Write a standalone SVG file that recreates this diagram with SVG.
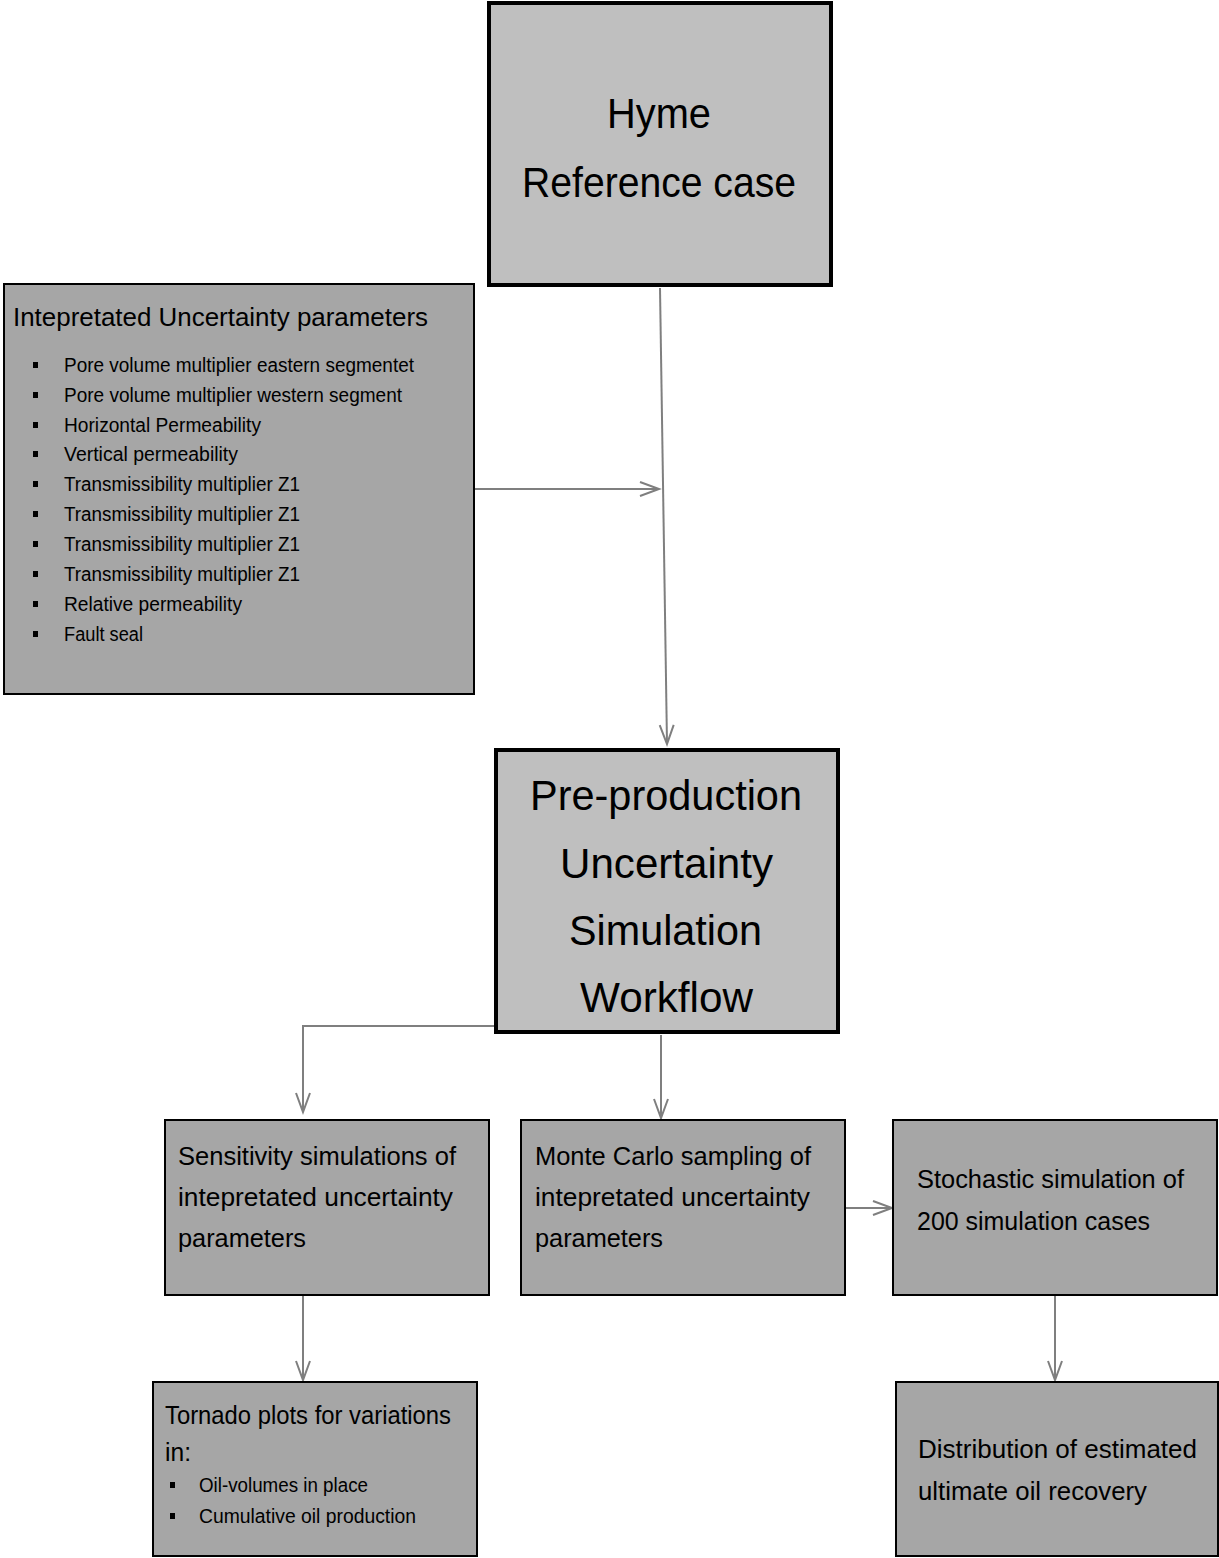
<svg xmlns="http://www.w3.org/2000/svg" width="1219" height="1558" viewBox="0 0 1219 1558">
<style>
.light{fill:#bfbfbf;stroke:#000;stroke-width:4}
.dark{fill:#a6a6a6;stroke:#000;stroke-width:2}
text{font-family:"Liberation Sans",Arial,sans-serif;fill:#000}
.big{font-size:43px}
.mid{font-size:26px}
.sm{font-size:20px}
.conn{fill:none;stroke:#7f7f7f;stroke-width:2}
.bul{fill:#000}
</style>
<defs>
<marker id="arr" markerUnits="userSpaceOnUse" markerWidth="26" markerHeight="22" refX="21" refY="10" orient="auto" viewBox="0 0 26 20">
<path d="M2,3 L21,10 L2,17" fill="none" stroke="#7f7f7f" stroke-width="2"/>
</marker>
</defs>
<g id="connectors">
<path class="conn" d="M660,288 L667,744" marker-end="url(#arr)"/>
<path class="conn" d="M475,489 L659,489" marker-end="url(#arr)"/>
<path class="conn" d="M495,1026 L303,1026 L303,1112" marker-end="url(#arr)"/>
<path class="conn" d="M661,1035 L661,1118" marker-end="url(#arr)"/>
<path class="conn" d="M845,1208 L892,1208" marker-end="url(#arr)"/>
<path class="conn" d="M303,1296 L303,1380" marker-end="url(#arr)"/>
<path class="conn" d="M1055,1296 L1055,1380" marker-end="url(#arr)"/>
</g>
<g id="hyme">
<rect class="light" x="489" y="3" width="342" height="282"/>
<text class="big" x="607" y="128" textLength="104" lengthAdjust="spacingAndGlyphs">Hyme</text>
<text class="big" x="522" y="197" textLength="274" lengthAdjust="spacingAndGlyphs">Reference case</text>
</g>
<g id="params">
<rect class="dark" x="4" y="284" width="470" height="410"/>
<text class="mid" x="13" y="326" textLength="415" lengthAdjust="spacingAndGlyphs">Intepretated Uncertainty parameters</text>
<rect class="bul" x="33" y="362" width="5" height="6"/>
<rect class="bul" x="33" y="392" width="5" height="6"/>
<rect class="bul" x="33" y="422" width="5" height="6"/>
<rect class="bul" x="33" y="451" width="5" height="6"/>
<rect class="bul" x="33" y="481" width="5" height="6"/>
<rect class="bul" x="33" y="511" width="5" height="6"/>
<rect class="bul" x="33" y="541" width="5" height="6"/>
<rect class="bul" x="33" y="571" width="5" height="6"/>
<rect class="bul" x="33" y="601" width="5" height="6"/>
<rect class="bul" x="33" y="631" width="5" height="6"/>
<text class="sm" x="64" y="372" textLength="350" lengthAdjust="spacingAndGlyphs">Pore volume multiplier eastern segmentet</text>
<text class="sm" x="64" y="402" textLength="338" lengthAdjust="spacingAndGlyphs">Pore volume multiplier western segment</text>
<text class="sm" x="64" y="432" textLength="197" lengthAdjust="spacingAndGlyphs">Horizontal Permeability</text>
<text class="sm" x="64" y="461" textLength="174" lengthAdjust="spacingAndGlyphs">Vertical permeability</text>
<text class="sm" x="64" y="491" textLength="236" lengthAdjust="spacingAndGlyphs">Transmissibility multiplier Z1</text>
<text class="sm" x="64" y="521" textLength="236" lengthAdjust="spacingAndGlyphs">Transmissibility multiplier Z1</text>
<text class="sm" x="64" y="551" textLength="236" lengthAdjust="spacingAndGlyphs">Transmissibility multiplier Z1</text>
<text class="sm" x="64" y="581" textLength="236" lengthAdjust="spacingAndGlyphs">Transmissibility multiplier Z1</text>
<text class="sm" x="64" y="611" textLength="178" lengthAdjust="spacingAndGlyphs">Relative permeability</text>
<text class="sm" x="64" y="641" textLength="79" lengthAdjust="spacingAndGlyphs">Fault seal</text>
</g>
<g id="preprod">
<rect class="light" x="496" y="750" width="342" height="282"/>
<text class="big" x="530" y="810" textLength="272" lengthAdjust="spacingAndGlyphs">Pre-production</text>
<text class="big" x="560" y="878" textLength="213" lengthAdjust="spacingAndGlyphs">Uncertainty</text>
<text class="big" x="569" y="945" textLength="193" lengthAdjust="spacingAndGlyphs">Simulation</text>
<text class="big" x="580" y="1012" textLength="173" lengthAdjust="spacingAndGlyphs">Workflow</text>
</g>
<g id="sensitivity">
<rect class="dark" x="165" y="1120" width="324" height="175"/>
<text class="mid" x="178" y="1165" textLength="278" lengthAdjust="spacingAndGlyphs">Sensitivity simulations of</text>
<text class="mid" x="178" y="1206" textLength="275" lengthAdjust="spacingAndGlyphs">intepretated uncertainty</text>
<text class="mid" x="178" y="1247" textLength="128" lengthAdjust="spacingAndGlyphs">parameters</text>
</g>
<g id="montecarlo">
<rect class="dark" x="521" y="1120" width="324" height="175"/>
<text class="mid" x="535" y="1165" textLength="276" lengthAdjust="spacingAndGlyphs">Monte Carlo sampling of</text>
<text class="mid" x="535" y="1206" textLength="275" lengthAdjust="spacingAndGlyphs">intepretated uncertainty</text>
<text class="mid" x="535" y="1247" textLength="128" lengthAdjust="spacingAndGlyphs">parameters</text>
</g>
<g id="stochastic">
<rect class="dark" x="893" y="1120" width="324" height="175"/>
<text class="mid" x="917" y="1188" textLength="267" lengthAdjust="spacingAndGlyphs">Stochastic simulation of</text>
<text class="mid" x="917" y="1230" textLength="233" lengthAdjust="spacingAndGlyphs">200 simulation cases</text>
</g>
<g id="tornado">
<rect class="dark" x="153" y="1382" width="324" height="174"/>
<text class="mid" x="165" y="1424" textLength="286" lengthAdjust="spacingAndGlyphs">Tornado plots for variations</text>
<text class="mid" x="165" y="1461" textLength="26" lengthAdjust="spacingAndGlyphs">in:</text>
<rect class="bul" x="170" y="1482" width="5" height="6"/>
<rect class="bul" x="170" y="1513" width="5" height="6"/>
<text class="sm" x="199" y="1492" textLength="169" lengthAdjust="spacingAndGlyphs">Oil-volumes in place</text>
<text class="sm" x="199" y="1523" textLength="217" lengthAdjust="spacingAndGlyphs">Cumulative oil production</text>
</g>
<g id="distribution">
<rect class="dark" x="896" y="1382" width="322" height="174"/>
<text class="mid" x="918" y="1458" textLength="279" lengthAdjust="spacingAndGlyphs">Distribution of estimated</text>
<text class="mid" x="918" y="1500" textLength="229" lengthAdjust="spacingAndGlyphs">ultimate oil recovery</text>
</g>
</svg>
